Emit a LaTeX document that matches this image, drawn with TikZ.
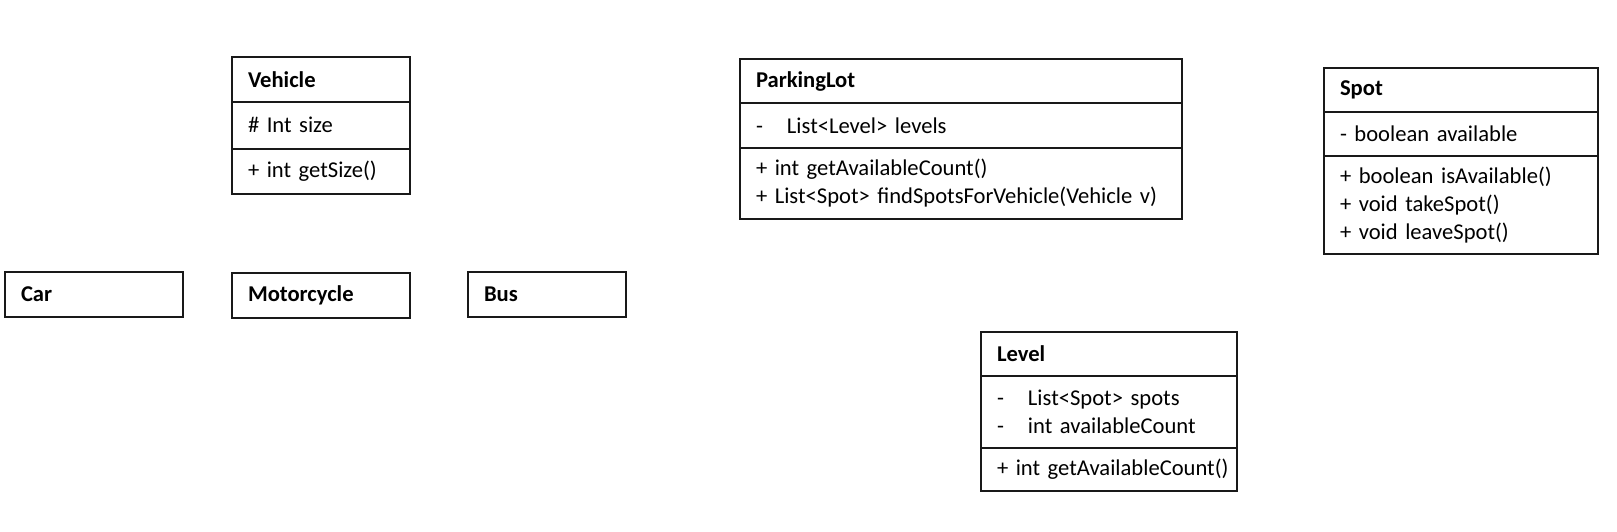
\documentclass[tikz,border=0pt]{standalone}
\usepackage{fontspec}
\setmainfont{Carlito}[WordSpace=0.8]
\usetikzlibrary{positioning}
\definecolor{umlblack}{RGB}{25,25,25}

\tikzset{
  cell/.style={draw=umlblack, line width=1pt, rectangle, outer sep=0pt,
    inner xsep=8pt, inner ysep=2pt, align=left, text width=#1,
    font=\fontsize{11.3}{13.9}\selectfont},
}
\newcommand{\priv}{\makebox[15.5pt][l]{-}}

\begin{document}
\begin{tikzpicture}[x=0.5pt, y=-0.5pt]

\useasboundingbox (0,0) rectangle (1617,531);

% Vehicle
\node[cell=73pt, anchor=north west, minimum height=22.5pt] (vehicle) at (232,57) {\textbf{Vehicle}};
\node[cell=73pt, below=0pt of vehicle, minimum height=23.25pt] (vehicle-attr) {\# Int size};
\node[cell=73pt, below=0pt of vehicle-attr, minimum height=22.75pt] (vehicle-ops) {+ int getSize()};

% Subclasses
\node[cell=72.75pt, anchor=north west, minimum height=22.5pt] (car) at (5,272) {\textbf{Car}};
\node[cell=73pt, anchor=north west, minimum height=22.5pt] (motorcycle) at (232,273) {\textbf{Motorcycle}};
\node[cell=63pt, anchor=north west, minimum height=22.5pt] (bus) at (468,272) {\textbf{Bus}};

% ParkingLot
\node[cell=205pt, anchor=north west, minimum height=22pt] (lot) at (740,59) {\textbf{ParkingLot}};
\node[cell=205pt, below=0pt of lot, minimum height=22.25pt] (lot-attr) {\priv List<Level> levels};
\node[cell=205pt, below=0pt of lot-attr, minimum height=35.75pt] (lot-ops) {+ int getAvailableCount()\\+ List<Spot> findSpotsForVehicle(Vehicle v)};

% Spot
\node[cell=121pt, anchor=north west, minimum height=22pt] (spot) at (1324,68) {\textbf{Spot}};
\node[cell=121pt, below=0pt of spot, minimum height=22pt] (spot-attr) {- boolean available};
\node[cell=121pt, below=0pt of spot-attr, minimum height=49pt] (spot-ops) {+ boolean isAvailable()\\+ void takeSpot()\\+ void leaveSpot()};

% Level
\node[cell=112pt, anchor=north west, minimum height=22pt] (level) at (981,332) {\textbf{Level}};
\node[cell=112pt, below=0pt of level, minimum height=35.75pt] (level-attr) {\priv List<Spot> spots\\\priv int availableCount};
\node[cell=112pt, below=0pt of level-attr, minimum height=21.75pt] (level-ops) {\mbox{+ int getAvailableCount()}};

\end{tikzpicture}
\end{document}
